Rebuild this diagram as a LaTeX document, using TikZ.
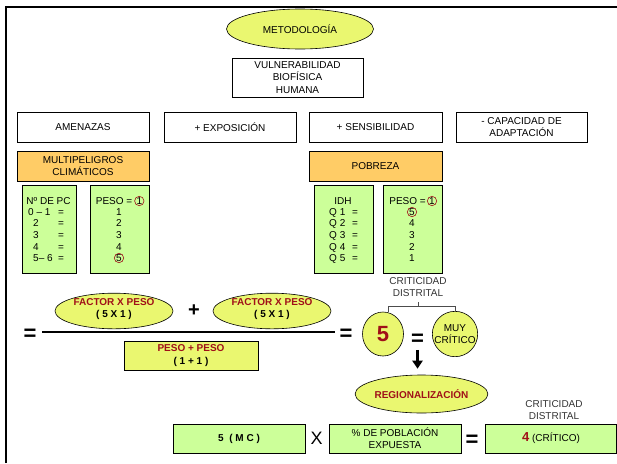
\documentclass[tikz,border=0pt]{standalone}
\usepackage{fontspec}
\setmainfont{Liberation Sans}
\usetikzlibrary{shapes.geometric,arrows.meta}
\definecolor{elfill}{RGB}{234,247,112}
\definecolor{grfill}{RGB}{204,255,153}
\definecolor{orfill}{RGB}{255,204,102}
\definecolor{dkred}{RGB}{160,16,24}
\newcommand{\txt}{\fontsize{10}{12.2}\selectfont}

\begin{document}
\begin{tikzpicture}[x=1pt, y=-1pt, font=\txt,
  box/.style={draw, line width=0.6pt, minimum width=132pt, minimum height=30pt, inner sep=1pt, align=center},
  oval/.style={ellipse, draw, line width=0.6pt, fill=elfill, inner sep=0pt, align=center},
  col/.style={draw, line width=0.6pt, fill=grfill, minimum width=59pt, minimum height=88pt},
  cell/.style={inner sep=0pt, text height=6.8pt, text depth=0pt},
  ring/.style={circle, draw=dkred, line width=0.6pt, inner sep=0pt, minimum size=9.4pt, text height=6.8pt, text depth=0pt},
  big/.style={inner sep=0pt, font=\fontsize{22}{22}\selectfont\bfseries},
  bracket/.style={draw=black!70, line width=0.6pt}]
\useasboundingbox (0,0) rectangle (617,463);
\draw [line width=2pt] (6,463) -- (6,7) -- (617,7);

\node[oval, minimum width=147pt, minimum height=40pt] (metodo) at (300,29) {METODOLOGÍA};
\node[box, minimum width=131pt, minimum height=39pt] (vulner) at (297.5,77.5) {VULNERABILIDAD\\BIOFÍSICA\\HUMANA};

\node[box] (amenaza) at (83,127) {AMENAZAS};
\node[box] (exposic) at (230,127) {+ EXPOSICIÓN};
\node[box, minimum width=133pt] (sensib) at (375.5,127) {+ SENSIBILIDAD};
\node[box, minimum width=131pt] (capadap) at (521.5,127) {- CAPACIDAD DE\\ADAPTACIÓN};

\node[box, fill=orfill] (multip) at (83,166) {MULTIPELIGROS\\CLIMÁTICOS};
\node[box, fill=orfill, minimum width=133pt] (pobreza) at (375.5,166) {POBREZA};

\node[col, minimum width=54pt] (numpc) at (49,229) {};
\node[col] (pesoA) at (119.5,229) {};
\node[col] (idh) at (343.5,229) {};
\node[col] (pesoB) at (412.5,229) {};

% multipeligros
\node[cell] (pchead) at (48.5,201) {Nº DE PC};
\foreach \t/\x/\y [count=\i] in {0 – 1/28/212, 2/33/223, 3/33/235, 4/33/247, 5– 6/33/258} {
  \node[cell, anchor=west] (pc\i) at (\x,\y) {\t};
  \node[cell] (pceq\i) at (61,\y) {=};
}
\node[cell, anchor=east] (pesohA) at (132.5,201) {PESO =};
\node[ring] (oneA) at (139.3,201) {1};
\foreach \v/\y in {1/212, 2/223, 3/235, 4/247}
  \node[cell] (wA\v) at (119,\y) {\v};
\node[ring] (fiveA) at (119,258) {5};

% pobreza
\node[cell] (idhhead) at (343,201) {IDH};
\foreach \i/\y in {1/212, 2/223, 3/235, 4/247, 5/258} {
  \node[cell, anchor=west] (q\i) at (329,\y) {Q \i};
  \node[cell] (qeq\i) at (355,\y) {=};
}
\node[cell, anchor=east] (pesohB) at (426,201) {PESO =};
\node[ring] (oneB) at (432,201) {1};
\node[ring] (fiveB) at (412,212) {5};
\foreach \v/\y in {4/223, 3/235, 2/247, 1/258}
  \node[cell] (wB\v) at (412,\y) {\v};

% formula
\node[big] (eqA) at (30,335) {=};
\coordinate (fracL) at (42,332);
\coordinate (fracR) at (335,332);
\draw [line width=1.6pt] (fracL) -- (fracR);
\node[oval, minimum width=118pt, minimum height=30pt, text depth=6pt, font=\txt\bfseries] (factA) at (114,311) {\textcolor{dkred}{FACTOR X PESO}\\( 5 X 1 )};
\node[inner sep=0pt, font=\fontsize{20}{20}\selectfont\bfseries] (plus) at (194,311) {+};
\node[oval, minimum width=118pt, minimum height=30pt, text depth=6pt, font=\txt\bfseries] (factB) at (272,311) {\textcolor{dkred}{FACTOR X PESO}\\( 5 X 1 )};
\node[box, fill=elfill, minimum width=134pt, minimum height=29pt, font=\txt\bfseries] (pesosum) at (191,355.5) {\textcolor{dkred}{PESO + PESO}\\( 1 + 1 )};
\node[big] (eqB) at (346,335) {=};

\node[ellipse, draw, line width=0.6pt, fill=elfill, minimum width=41pt, minimum height=44pt, inner sep=0pt, text=dkred, font=\fontsize{22}{22}\selectfont\bfseries] (five) at (383,334) {5};
\node[big] (eqC) at (417.5,340) {=};
\node[circle, draw, line width=0.6pt, fill=elfill, minimum size=44pt, inner sep=0pt, align=center] (muy) at (455,334) {MUY\\CRÍTICO};
\node[align=center, text=black!80, inner sep=0pt] (critA) at (418,287) {CRITICIDAD\\DISTRITAL};
\draw [bracket] (five.north) ++(5,0) -- ++(0,-5) -| (muy.north);
\draw [bracket] (critA.south |- 0,302) -- (critA.south |- 0,307);

\node[oval, minimum width=117pt, minimum height=38pt, font=\txt\bfseries, text=dkred] (regio) at (421.5,394) {REGIONALIZACIÓN};
\draw [line width=2.6pt, -{Triangle[width=10pt,length=8pt]}, shorten >=6pt] (eqC.south) ++(0,4) -- (eqC.south |- regio.north);

% regionalizacion
\node[box, fill=grfill, minimum height=29pt, font=\txt\bfseries] (mc) at (239,438.5) {5\ \ ( M C )};
\node[inner sep=0pt, font=\fontsize{18}{18}\selectfont] (times) at (316.5,438.5) {X};
\node[box, fill=grfill, minimum height=29pt] (pobla) at (395,438.5) {\% DE POBLACIÓN\\EXPUESTA};
\node[big] (eqD) at (472,440.5) {=};
\node[box, fill=grfill, minimum width=131pt, minimum height=29pt] (result) at (551,438.5) {\textcolor{dkred}{\fontsize{13}{13}\selectfont\bfseries 4} (CRÍTICO)};
\node[align=center, text=black!80, inner sep=0pt] (critB) at (554,410) {CRITICIDAD\\DISTRITAL};
\end{tikzpicture}
\end{document}
